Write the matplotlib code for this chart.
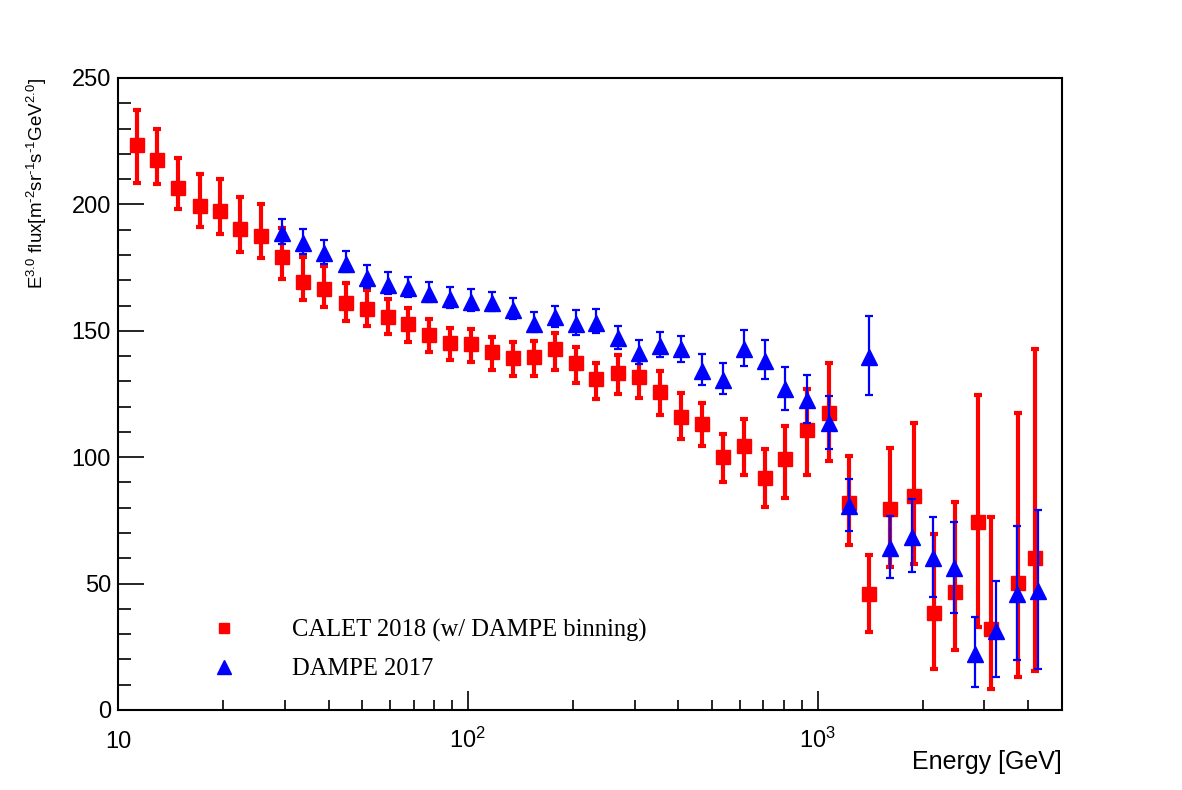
import numpy as np
import matplotlib
matplotlib.use('Agg')
import matplotlib.pyplot as plt
from matplotlib.lines import Line2D

plt.rcParams['font.family'] = ['Liberation Sans', 'DejaVu Sans']
plt.rcParams['mathtext.fontset'] = 'custom'
plt.rcParams['mathtext.rm'] = 'Liberation Sans'
plt.rcParams['mathtext.it'] = 'Liberation Sans:italic'
plt.rcParams['mathtext.default'] = 'regular'

# CALET 2018 (DAMPE binning): energy [GeV], flux*E^3, upper / lower edge of error bar
calet_e = [11.33, 12.92, 14.84, 17.15, 19.56, 22.32, 25.62, 29.42, 33.78, 38.78,
           44.73, 51.36, 58.97, 67.53, 77.54, 88.84, 101.99, 117.1, 134.5, 154.4,
           178.1, 203.5, 233.2, 268.3, 308.7, 353.7, 407.9, 468.4, 536.3, 615.8,
           708.9, 808.7, 932.2, 1078.6, 1226.6, 1405.1, 1616.6, 1884.4, 2159.5, 2474.5,
           2870.8, 3135.7, 3735.4, 4175.0]
calet_f = [223.5, 217.6, 206.4, 199.4, 197.4, 190.1, 187.6, 179.0, 169.4, 166.5,
           160.9, 158.5, 155.3, 152.6, 148.3, 145.0, 144.6, 141.7, 139.4, 139.8,
           142.7, 137.1, 130.8, 133.2, 131.9, 125.6, 116.0, 113.1, 100.2, 104.4,
           91.9, 99.2, 110.8, 117.3, 81.9, 45.9, 79.5, 84.8, 38.2, 46.5,
           74.2, 32.2, 50.1, 60.0]
calet_hi = [237.3, 229.7, 218.5, 212.0, 210.2, 203.0, 200.2, 190.5, 179.3, 175.6,
            169.0, 166.1, 162.4, 159.2, 154.5, 151.2, 150.7, 147.7, 145.4, 146.0,
            149.0, 143.7, 137.4, 140.4, 138.4, 134.2, 125.3, 121.6, 109.3, 115.1,
            103.4, 112.5, 126.8, 137.1, 100.5, 61.3, 103.5, 113.4, 69.8, 82.3,
            124.6, 76.5, 117.3, 142.8]
calet_lo = [208.6, 208.1, 198.0, 191.0, 188.4, 181.2, 178.8, 170.4, 162.2, 159.5,
            154.0, 151.9, 148.7, 145.7, 141.7, 138.4, 137.7, 134.5, 132.1, 132.1,
            134.5, 129.4, 123.0, 124.9, 123.4, 116.7, 107.1, 104.5, 90.3, 93.0,
            80.2, 84.0, 93.0, 98.6, 65.1, 31.0, 56.7, 57.6, 16.1, 23.7,
            32.7, 8.2, 13.2, 15.5]

# DAMPE 2017
dampe_e = [29.42, 33.78, 38.78, 44.73, 51.36, 58.97, 67.53, 77.54, 88.84, 101.99,
           117.1, 134.5, 154.4, 178.1, 203.5, 233.2, 268.3, 308.7, 353.7, 407.9,
           468.4, 536.3, 615.8, 708.9, 808.7, 932.2, 1078.6, 1226.6, 1405.1, 1616.6,
           1859.8, 2135.5, 2451.8, 2822.1, 3240.5, 3720.6, 4280.3]
dampe_f = [188.5, 184.8, 180.6, 176.6, 171.0, 168.1, 166.8, 164.4, 162.4, 161.5,
           161.1, 158.2, 152.7, 155.3, 152.7, 153.2, 147.0, 141.1, 144.0, 142.7,
           134.2, 130.5, 142.7, 138.2, 126.8, 122.6, 113.4, 80.8, 139.5, 64.0,
           68.6, 60.0, 56.0, 22.2, 31.4, 45.7, 47.2]
dampe_hi = [194.3, 190.3, 185.9, 181.7, 175.9, 173.4, 171.3, 169.4, 167.4, 166.4,
            165.2, 162.8, 157.4, 159.9, 158.2, 158.5, 151.9, 146.4, 149.6, 147.9,
            140.7, 137.1, 150.3, 146.4, 135.8, 132.5, 124.3, 91.5, 155.9, 76.7,
            83.5, 76.5, 74.5, 36.9, 51.1, 72.8, 79.1]
dampe_lo = [184.3, 180.4, 176.4, 173.1, 166.8, 164.6, 163.2, 161.3, 159.1, 158.0,
            158.0, 154.7, 149.6, 151.6, 148.3, 149.3, 142.9, 136.9, 139.8, 137.7,
            128.7, 124.9, 136.1, 130.8, 118.7, 113.6, 103.4, 70.9, 124.6, 52.3,
            54.4, 44.7, 38.5, 9.0, 12.9, 19.8, 16.1]

calet_f = np.array(calet_f)
dampe_f = np.array(dampe_f)
calet_err = [calet_f - np.array(calet_lo), np.array(calet_hi) - calet_f]
dampe_err = [dampe_f - np.array(dampe_lo), np.array(dampe_hi) - dampe_f]

fig = plt.figure(figsize=(11.82, 7.90), dpi=100)
ax = fig.add_axes([118 / 1182, 80 / 790, 944 / 1182, 632 / 790])

ax.errorbar(calet_e, calet_f, yerr=calet_err, fmt='s', color='red', ms=10,
            elinewidth=3, capsize=2.6, capthick=3, zorder=2)
ax.errorbar(dampe_e, dampe_f, yerr=dampe_err, fmt='^', color='blue', ms=11.5,
            elinewidth=1.6, capsize=3.2, capthick=1.6, zorder=3)

ax.set_xscale('log')
ax.set_xlim(10, 5000)
ax.set_ylim(0, 250)
ax.set_xticks([10, 100, 1000])
ax.set_xticklabels(['10', '$10^2$', '$10^3$'])
ax.set_yticks(np.arange(0, 251, 50))
ax.set_yticks(np.arange(0, 251, 10), minor=True)
ax.xaxis.set_minor_locator(matplotlib.ticker.LogLocator(base=10, subs=np.arange(2, 10)))
ax.xaxis.set_minor_formatter(matplotlib.ticker.NullFormatter())

for s in ax.spines.values():
    s.set_linewidth(1.5)
ax.tick_params(axis='y', which='major', direction='in', length=19, width=1.2,
               labelsize=17, pad=5)
ax.tick_params(axis='y', which='minor', direction='in', length=9.5, width=1.2)
ax.tick_params(axis='x', which='major', direction='in', length=13.5, width=1.2,
               labelsize=17, pad=27)
ax.tick_params(axis='x', which='minor', direction='in', length=7, width=1.2)
for lab in ax.get_xticklabels():
    lab.set_verticalalignment('baseline')

ax.set_ylabel(r'E$^{3.0}$ flux[m$^{\text{-}2}$sr$^{\text{-}1}$s$^{\text{-}1}$GeV$^{2.0}$]',
              fontsize=13.5, loc='top')
ax.yaxis.set_label_coords(-0.073, 1.0)
ax.set_xlabel('Energy [GeV]', fontsize=18, loc='right')
ax.xaxis.set_label_coords(1.0, -0.063)

handles = [Line2D([], [], ls='none', marker='s', color='red', ms=7.5),
           Line2D([], [], ls='none', marker='^', color='blue', ms=10.5)]
labels = ['CALET 2018 (w/ DAMPE binning)', 'DAMPE 2017']
ax.legend(handles, labels, loc='upper left', frameon=False,
          bbox_to_anchor=(199 / 1182, 1 - 619 / 790), bbox_transform=fig.transFigure,
          prop={'family': 'Liberation Serif', 'size': 17.7}, borderpad=0,
          borderaxespad=0, handlelength=2.0, handletextpad=1.77, labelspacing=0.65)

fig.savefig('out.png', dpi=100)
